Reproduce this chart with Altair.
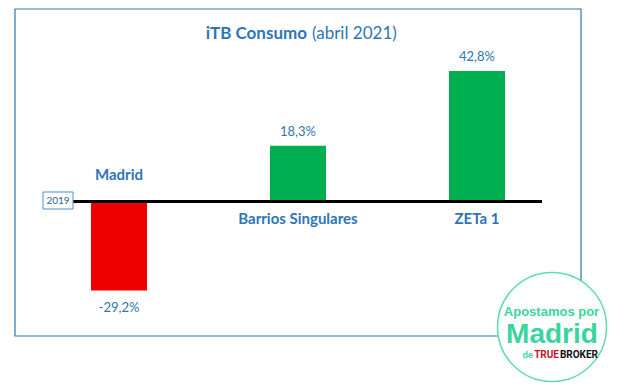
import altair as alt
import pandas as pd

categories = ["Madrid", "Barrios Singulares", "ZETa 1"]
values = [-29.2, 18.3, 42.8]
bar_colors = ["#EE0000", "#00B050", "#00B050"]
title_bold = "iTB Consumo"
title_normal = "(abril 2021)"
base_label = "2019"

BLUE = "#2E75B6"
TEAL = "#3AD49E"
FONT = "Lato"

df = pd.DataFrame({
    "cat": categories,
    "value": values,
    "zero": [0.0] * len(values),
    "color": bar_colors,
    "label": [f"{v:.1f}".replace(".", ",") + "%" for v in values],
})

W, H = 612, 372
x_enc = alt.X("cat:N", sort=categories, axis=None,
              scale=alt.Scale(range=[21.5, 558.5], paddingInner=0.687, paddingOuter=0.3435))
y_scale = alt.Scale(domain=[-58.53, 63.44], nice=False, zero=False)
y_enc = alt.Y("value:Q", axis=None, scale=y_scale)
y0_enc = alt.Y("zero:Q", axis=None, scale=y_scale)

base = alt.Chart(df)
one = alt.Chart(pd.DataFrame({"k": [0], "zero": [0.0]}))

frame = one.mark_rect(fillOpacity=0, stroke=BLUE, strokeWidth=1.2).encode(
    x=alt.value(7), x2=alt.value(573), y=alt.value(1), y2=alt.value(328))

bars = base.mark_bar().encode(
    x=x_enc, y=y_enc, y2="zero:Q", color=alt.Color("color:N", scale=None))

baseline = one.mark_rule(color="black", strokeWidth=3).encode(
    x=alt.value(65), x2=alt.value(534), y=y0_enc)

box = one.mark_rect(fill="white", stroke="#4A8FCB", strokeWidth=1).encode(
    x=alt.value(35), x2=alt.value(65), y=alt.value(184), y2=alt.value(201))
box_text = one.mark_text(text=base_label, fontSize=10, font=FONT, color="#2F5F8F",
                         align="center", baseline="middle").encode(
    x=alt.value(50), y=alt.value(192.5))

pos_labels = base.transform_filter("datum.value >= 0").mark_text(
    font=FONT, fontSize=13, color=BLUE, baseline="alphabetic", dy=-10).encode(
    x=x_enc, y=y_enc, text="label:N")
neg_labels = base.transform_filter("datum.value < 0").mark_text(
    font=FONT, fontSize=13, color=BLUE, baseline="alphabetic", dy=21).encode(
    x=x_enc, y=y_enc, text="label:N")

cat_pos = base.transform_filter("datum.value >= 0").mark_text(
    font=FONT, fontSize=15, fontWeight="bold", color=BLUE, baseline="alphabetic", dy=23).encode(
    x=x_enc, y=y0_enc, text="cat:N")
cat_neg = base.transform_filter("datum.value < 0").mark_text(
    font=FONT, fontSize=15, fontWeight="bold", color=BLUE, baseline="alphabetic", dy=-21).encode(
    x=x_enc, y=y0_enc, text="cat:N")

t1 = one.mark_text(text=title_bold, font=FONT, fontSize=17, fontWeight="bold", color=BLUE,
                   align="right", baseline="alphabetic").encode(x=alt.value(299), y=alt.value(31))
t2 = one.mark_text(text=title_normal, font=FONT, fontSize=17, color=BLUE,
                   align="left", baseline="alphabetic").encode(x=alt.value(304), y=alt.value(31))

logo_circle = one.mark_point(shape="circle", filled=True, fill="white", fillOpacity=1,
                             stroke="#5EDDB0", strokeWidth=1.5, size=11881, opacity=1).encode(
    x=alt.value(544), y=alt.value(319))
logo1 = one.mark_text(text="Apostamos por", font="Liberation Sans", fontSize=13, fontWeight="bold",
                      color=TEAL, align="center", baseline="alphabetic").encode(
    x=alt.value(543.5), y=alt.value(308))
logo2 = one.mark_text(text="Madrid", font="Liberation Sans", fontSize=28, fontWeight="bold",
                      color=TEAL, align="center", baseline="alphabetic").encode(
    x=alt.value(544), y=alt.value(335))
logo3 = one.mark_text(text="de", font="Liberation Sans", fontSize=9, fontWeight="bold",
                      color=TEAL, align="right", baseline="alphabetic").encode(
    x=alt.value(525), y=alt.value(350))
logo4 = one.mark_text(text="TRUE", font="Roboto", fontSize=10,
                      fontWeight="bold", color="#C0182A", align="right", baseline="alphabetic").encode(
    x=alt.value(551), y=alt.value(350))
logo5 = one.mark_text(text="BROKER", font="Roboto", fontSize=10,
                      fontWeight="bold", color="#111111", align="right", baseline="alphabetic").encode(
    x=alt.value(590), y=alt.value(350))

chart = alt.layer(
    frame, bars, baseline, box, box_text, pos_labels, neg_labels, cat_pos, cat_neg, t1, t2,
    logo_circle, logo1, logo2, logo3, logo4, logo5
).properties(width=W, height=H, padding=0, background="white").configure_view(stroke=None)

chart.save("out.html", embed_options={"renderer": "svg", "actions": False})
